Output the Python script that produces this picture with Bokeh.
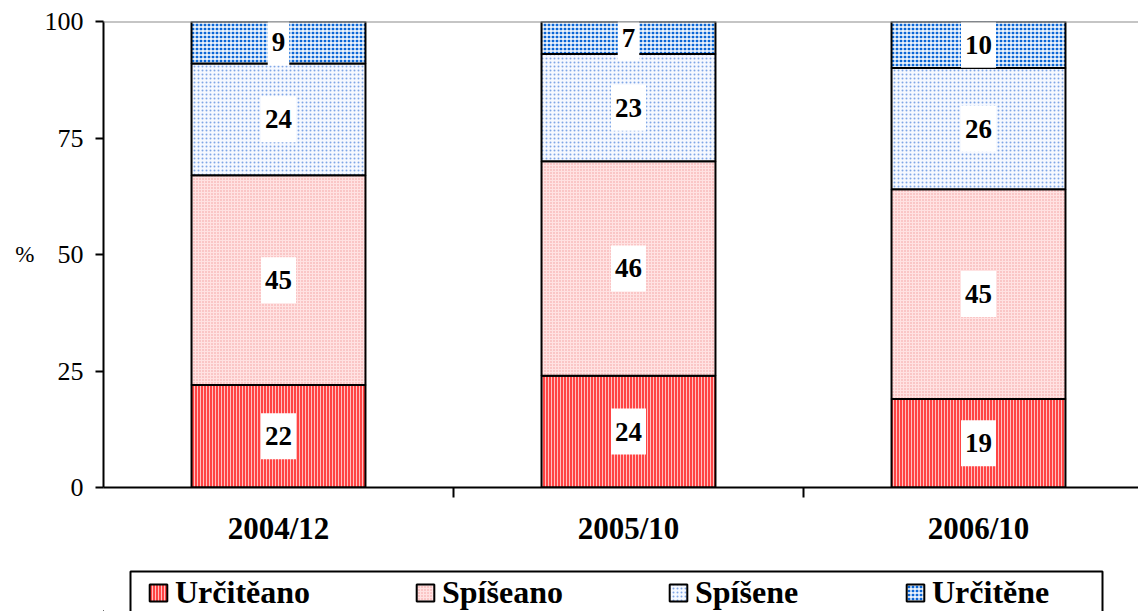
from bokeh.plotting import figure
from bokeh.layouts import column
from bokeh.models import (ColumnDataSource, FixedTicker, Range1d, Span, Legend,
                          LegendItem, BoxAnnotation)
from bokeh.core.properties import value
from bokeh.embed import file_html
from bokeh.resources import INLINE

periods = ["2004/12", "2005/10", "2006/10"]
urciteano = [22, 24, 19]
spiseano = [45, 46, 45]
spisene = [24, 23, 26]
urcitene = [9, 7, 10]
series_names = ["Určitěano", "Spíšeano", "Spíšene", "Určitěne"]
y_ticks = [0, 25, 50, 75, 100]

series = [urciteano, spiseano, spisene, urcitene]
styles = [
    dict(fill_color="#ff4444", hatch_pattern="|", hatch_color="#ffc0c0", hatch_scale=3, hatch_weight=1),
    dict(fill_color="#ffe2e2", hatch_pattern=".", hatch_color="#f29a9a", hatch_scale=3, hatch_weight=1),
    dict(fill_color="#f6f9ff", hatch_pattern=".", hatch_color="#7fa6e6", hatch_scale=4, hatch_weight=1),
    dict(fill_color="#0a66d6", hatch_pattern="+", hatch_color="#ffffff", hatch_scale=4, hatch_weight=1.3),
]

FONT = "Liberation Serif"
xs = [i + 0.5 for i in range(len(periods))]

W = 1138
H1 = 560
H2 = 51
left_px = 103
cat_px = 350
x_end = (W - left_px) / cat_px

p = figure(width=W, height=H1, output_backend="svg", toolbar_location=None,
           x_range=Range1d(0, x_end), y_range=Range1d(0, 100),
           min_border_left=left_px, min_border_right=0, min_border_top=21,
           min_border_bottom=73)
p.outline_line_color = None
p.xgrid.visible = False
p.ygrid.visible = False

bottoms = [0] * len(periods)
lab_x, lab_y, lab_t = [], [], []
for name, vals, st in zip(series_names, series, styles):
    tops = [b + v for b, v in zip(bottoms, vals)]
    src = ColumnDataSource(dict(x=xs, bottom=bottoms, top=tops))
    p.vbar(x="x", bottom="bottom", top="top", width=0.497, source=src,
           line_color="black", line_width=2, **st)
    for xi, b, t, v in zip(xs, bottoms, tops, vals):
        lab_x.append(xi)
        lab_y.append((b + t) / 2)
        lab_t.append(str(v))
    bottoms = tops

p.add_layout(Span(location=100, dimension="width", line_color="#8c8c8c", line_width=2))

lsrc = ColumnDataSource(dict(x=lab_x, y=lab_y, t=lab_t))
p.text(x="x", y="y", text="t", source=lsrc, text_font=value(FONT),
       text_font_style="bold", text_font_size="27px", text_align="center",
       text_baseline="middle", text_color="black",
       background_fill_color="white",
       padding=dict(left=4, right=4, top=14, bottom=14))

ya = p.yaxis[0]
ya.ticker = FixedTicker(ticks=y_ticks)
ya.axis_line_width = 2
ya.axis_line_color = "black"
ya.major_tick_line_width = 2
ya.major_tick_line_color = "black"
ya.major_tick_out = 8
ya.major_tick_in = 0
ya.minor_tick_line_color = None
ya.major_label_text_font = FONT
ya.major_label_text_font_size = "26px"
ya.major_label_text_color = "black"
ya.major_label_standoff = 12
ya.axis_label = "%"
ya.axis_label_orientation = "horizontal"
ya.axis_label_text_font = FONT
ya.axis_label_text_font_style = "normal"
ya.axis_label_text_font_size = "23px"
ya.axis_label_text_color = "black"
ya.axis_label_standoff = 7

xa = p.xaxis[0]
xa.ticker = FixedTicker(ticks=xs, minor_ticks=[1, 2])
xa.major_label_overrides = {xv: lbl for xv, lbl in zip(xs, periods)}
xa.axis_line_width = 2
xa.axis_line_color = "black"
xa.major_tick_line_color = None
xa.major_tick_out = 0
xa.major_tick_in = 0
xa.minor_tick_line_width = 2
xa.minor_tick_line_color = "black"
xa.minor_tick_out = 10
xa.minor_tick_in = 0
xa.major_label_text_font = FONT
xa.major_label_text_font_style = "bold"
xa.major_label_text_font_size = "31px"
xa.major_label_text_color = "black"
xa.major_label_standoff = 13

# legend strip: same frame borders as the chart, so the column keeps them aligned;
# x/y ranges are in pixels of the strip so the legend frame sits where it should
box_left, box_right, box_top = 130, 1102, 11
p2 = figure(width=W, height=H2, output_backend="svg", toolbar_location=None,
            x_range=Range1d(left_px, W), y_range=Range1d(0, H2),
            x_axis_type=None, y_axis_type=None,
            min_border_left=left_px, min_border_right=0,
            min_border_top=0, min_border_bottom=0)
p2.xgrid.visible = False
p2.ygrid.visible = False
p2.outline_line_color = None
p2.add_layout(BoxAnnotation(left=box_left, right=box_right, top=H2 - box_top, bottom=-20,
                            fill_alpha=0, line_color="black", line_width=2, line_alpha=1.0))

item_x = [147, 414, 667, 904]
for name, st, lx in zip(series_names, styles, item_x):
    # off-screen proxy renderer, used only to draw the legend swatch
    r = p2.vbar(x=[-5000], bottom=[-5000], top=[-4999], width=1,
                line_color="black", line_width=2, **st)
    lg = Legend(items=[LegendItem(label=name, renderers=[r])],
                location=(lx - left_px, 0), orientation="horizontal",
                border_line_color=None, background_fill_alpha=0,
                label_text_font=FONT, label_text_font_style="bold",
                label_text_font_size="32px", label_text_color="black",
                glyph_width=22, glyph_height=21, label_standoff=6,
                padding=0, margin=0, spacing=0)
    p2.add_layout(lg, "center")

layout = column(p, p2, spacing=0)
open("out.html", "w").write(file_html(layout, INLINE))
